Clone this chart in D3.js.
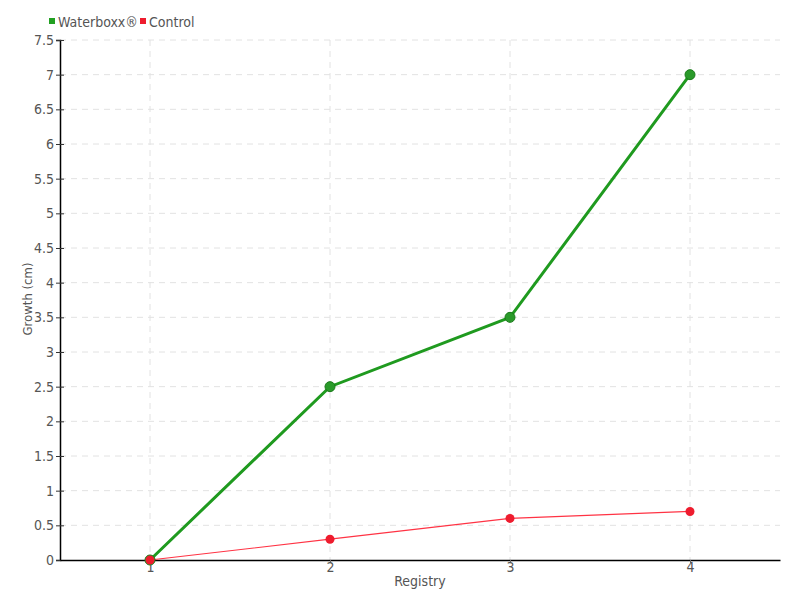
<!DOCTYPE html>
<html><head><meta charset="utf-8">
<script src="https://cdn.jsdelivr.net/npm/d3@7"></script>
<style>
body{margin:0;background:#fff;}
text{font-family:"Liberation Sans Narrow","DejaVu Sans Condensed","Roboto Condensed",sans-serif;}
</style></head>
<body><svg id="c" width="800" height="600"></svg>
<script>
const categories = [1, 2, 3, 4];
const waterboxx = [0, 2.5, 3.5, 7];
const control = [0, 0.3, 0.6, 0.7];
const yTicks = [0,0.5,1,1.5,2,2.5,3,3.5,4,4.5,5,5.5,6,6.5,7,7.5];
const seriesNames = ["Waterboxx®", "Control"];

const svg = d3.select("#c");
const x = d3.scaleLinear().domain([0.5, 4.5]).range([60, 780]);
const y = d3.scaleLinear().domain([0, 7.5]).range([560, 40]);

// grid
svg.append("g").selectAll("line.h").data(yTicks.slice(1)).join("line")
  .attr("x1", 60).attr("x2", 780).attr("y1", d=>y(d)).attr("y2", d=>y(d))
  .attr("stroke", "#e2e2e2").attr("stroke-dasharray", "6,5");
svg.append("g").selectAll("line.v").data(categories).join("line")
  .attr("x1", d=>x(d)).attr("x2", d=>x(d)).attr("y1", 40).attr("y2", 560)
  .attr("stroke", "#e2e2e2").attr("stroke-dasharray", "6,5");

// y axis
const yAxis = svg.append("g").attr("transform","translate(60,0)")
  .call(d3.axisLeft(y).tickValues(yTicks).tickFormat(d=>String(d)).tickSize(4).tickPadding(2));
yAxis.select(".domain").attr("stroke","#000").attr("stroke-width",1.5);
yAxis.selectAll(".tick line").attr("stroke","#333").attr("x2",4).attr("x1",-4);
yAxis.selectAll(".tick text").attr("fill","#555").style("font-size","14px");

// x axis
const xAxis = svg.append("g").attr("transform","translate(0,560)")
  .call(d3.axisBottom(x).tickValues(categories).tickFormat(d=>String(d)).tickSize(3).tickPadding(-1).tickSizeOuter(0));
xAxis.select(".domain").attr("stroke","#000").attr("stroke-width",1.5);
xAxis.selectAll(".tick line").attr("stroke","#666");
xAxis.selectAll(".tick text").attr("fill","#555").style("font-size","14px");

// axis titles
svg.append("text").attr("x",420).attr("y",586).attr("text-anchor","middle")
  .attr("fill","#555").style("font-size","14px").text("Registry");
svg.append("text").attr("transform","translate(32,299) rotate(-90)").attr("text-anchor","middle")
  .attr("fill","#555").style("font-size","13px").text("Growth (cm)");

// lines
const line = d3.line().x((d,i)=>x(categories[i])).y(d=>y(d));
svg.append("path").datum(waterboxx).attr("d",line).attr("fill","none")
  .attr("stroke","#1f9a1f").attr("stroke-width",3);
svg.append("path").datum(control).attr("d",line).attr("fill","none")
  .attr("stroke","#ff3344").attr("stroke-width",1.2);

svg.append("g").selectAll("circle").data(waterboxx).join("circle")
  .attr("cx",(d,i)=>x(categories[i])).attr("cy",d=>y(d)).attr("r",5)
  .attr("fill","#2a9a2a").attr("stroke","#1a7a1a").attr("stroke-width",1);
svg.append("g").selectAll("circle").data(control).join("circle")
  .attr("cx",(d,i)=>x(categories[i])).attr("cy",d=>y(d)).attr("r",4.5)
  .attr("fill","#ee1c2e");

// legend
const legColors = ["#22a022","#ee1c2e"];
const legX = [49, 140];
const lg = svg.append("g");
seriesNames.forEach((n,i)=>{
  lg.append("rect").attr("x",legX[i]).attr("y",18).attr("width",6).attr("height",6).attr("fill",legColors[i]);
  lg.append("text").attr("x",legX[i]+9).attr("y",27).attr("fill","#555").style("font-size","14px").text(n);
});
</script></body></html>
